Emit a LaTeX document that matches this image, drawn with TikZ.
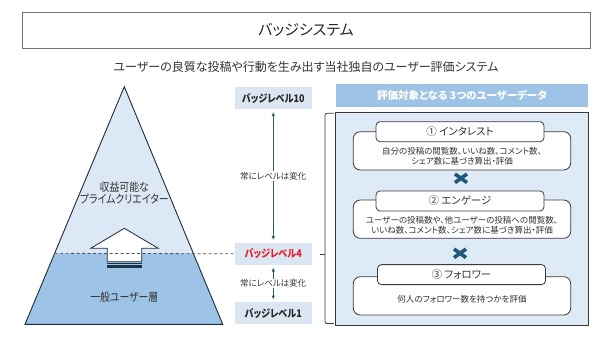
\documentclass[tikz,border=0pt]{standalone}
\usepackage{fontspec}
\setmainfont{Noto Sans CJK JP}[RawFeature=+palt]
\newfontfamily\narrowjp{Noto Sans CJK JP}[RawFeature=+palt, FakeStretch=0.86]
\usetikzlibrary{arrows.meta,calc}
\definecolor{pyrtop}{HTML}{DCE8F5}
\definecolor{pyrbot}{HTML}{9DC3E6}
\definecolor{edge}{HTML}{1E2B38}
\definecolor{panelfill}{HTML}{DEEBF7}
\definecolor{hdrfill}{HTML}{9DC3E6}
\definecolor{lvlfill}{HTML}{DCE6F2}
\definecolor{teal}{HTML}{2A5E72}
\definecolor{xmark}{HTML}{1F5878}
\definecolor{redtxt}{HTML}{E3202A}
\definecolor{txt}{HTML}{333333}
\definecolor{boxline}{HTML}{3A3A3A}
\tikzset{
  titlebox/.style={draw=black!55, line width=0.8pt, minimum width=568pt, minimum height=36pt, inner sep=0pt},
  lvl/.style={fill=lvlfill, minimum width=77pt, minimum height=22pt, inner sep=0pt, font=\narrowjp\bfseries\fontsize{10.5}{13}\selectfont, text=black!85},
  lbl/.style={fill=white, inner sep=1pt, font=\fontsize{8.5}{10}\selectfont, text=txt},
  vlink/.style={teal, line width=0.9pt, {Latex[length=4pt,width=3.5pt]}-{Latex[length=4pt,width=3.5pt]}},
  tabbox/.style={draw=boxline, fill=white, line width=0.8pt, rounded corners=4pt, minimum width=168pt, minimum height=20pt, inner sep=0pt, font=\fontsize{10.5}{12}\selectfont, text=txt},
  bodybox/.style={draw=boxline, fill=white, line width=0.8pt, rounded corners=7pt, minimum width=217.4pt, inner sep=0pt},
  bodytxt/.style={align=center, inner sep=0pt, font=\fontsize{8.5}{10.3}\selectfont, text=txt},
  xm/.style={xmark, line width=3.6pt},
  pyrtxt/.style={align=center, inner sep=0pt, font=\narrowjp\fontsize{11.5}{12.5}\selectfont, text=txt},
}
\begin{document}
\begin{tikzpicture}[x=1pt,y=-1pt]
\useasboundingbox (0,0) rectangle (613,345);
\fill[white] (0,0) rectangle (613,345);
% title
\node[titlebox, font=\fontsize{15}{18}\selectfont, text=black!85] (title) at (306,30) {バッジシステム};
\node[inner sep=0pt, font=\fontsize{12}{14}\selectfont, text=txt] (sub) at (306,67) {ユーザーの良質な投稿や行動を生み出す当社独自のユーザー評価システム};
% pyramid
\coordinate (apex) at (124.3,86.7);
\coordinate (bl) at (25,324.3);
\coordinate (br) at (222.7,324.3);
\coordinate (ml) at ($(apex)!0.7012!(bl)$);
\coordinate (mr) at ($(apex)!0.7012!(br)$);
\fill[pyrtop] (apex) -- (ml) -- (mr) -- cycle;
\fill[pyrbot] (ml) -- (bl) -- (br) -- (mr) -- cycle;
\draw[edge, line width=0.9pt, line join=miter] (apex) -- (bl) -- (br) -- cycle;
\node[pyrtxt] (top) at (124.3,193) {収益可能な\\プライムクリエイター};
\node[pyrtxt] (bottom) at (124.3,297.3) {一般ユーザー層};
% up arrow
\draw[edge, fill=white, line width=0.8pt] (124.3,228.3) -- (158.3,248.3) -- (141.7,248.3) -- (141.7,261.7) -- (107.3,261.7) -- (107.3,248.3) -- (90.7,248.3) -- cycle;
\fill[edge!90!teal] (107.3,263.2) rectangle (141.7,264.2);
\fill[edge!90!teal] (107.3,265.4) rectangle (141.7,268.4);
% levels
\node[lvl] (l10) at (273.3,98.3) {バッジレベル10};
\node[lvl, text=redtxt] (l4) at (273.3,253.8) {バッジレベル4};
\node[lvl] (l1) at (273.3,313.3) {バッジレベル1};
\draw[edge!80!white, dash pattern=on 3pt off 2.5pt, line width=0.8pt] (ml) -- (l4.west);
\draw[vlink, shorten <=2.5pt, shorten >=2.5pt] (l10.south) -- node[lbl] (c1) {常にレベルは変化} (l4.north);
\draw[vlink, shorten <=2.5pt, shorten >=2.5pt] (l4.south) -- node[lbl] (c2) {常にレベルは変化} (l1.north);
% bracket
\draw[boxline, line width=0.8pt, rounded corners=2pt] (334,113.3) -- (325,113.3) -- (325,323.5) -- (334,323.5);
\draw[boxline, line width=0.8pt] (325,254.5) -- (320,254.5);
% right panel
\node[fill=hdrfill, minimum width=252.6pt, minimum height=22.7pt, inner sep=0pt, text=white, font=\bfseries\fontsize{10.5}{12}\selectfont] (hdr) at (462,95.3) {評価対象となる 3つのユーザーデータ};
\draw[boxline, fill=panelfill, line width=0.8pt] (335.7,112.8) rectangle (588.3,325);
% box 1
\node[bodybox, minimum height=38.3pt] (b1) at (462,150.85) {};
\node[tabbox] (t1) at (460,131.7) {① インタレスト};
\node[bodytxt] (d1) at (462,156.3) {自分の投稿の閲覧数、いいね数、コメント数、\\シェア数に基づき算出・評価};
\draw[xm] (455,174) -- (467,182.6);
\draw[xm] (455,182.6) -- (467,174);
% box 2
\node[bodybox, minimum height=38.3pt] (b2) at (462,219.15) {};
\node[tabbox] (t2) at (460,201) {② エンゲージ};
\node[bodytxt] (d2) at (462,225.5) {ユーザーの投稿数や、他ユーザーの投稿への閲覧数、\\いいね数、コメント数、シェア数に基づき算出・評価};
\draw[xm] (454,249) -- (466,257.6);
\draw[xm] (454,257.6) -- (466,249);
% box 3
\node[bodybox, minimum height=38.3pt] (b3) at (462,295.85) {};
\node[tabbox] (t3) at (461.5,274.6) {③ フォロワー};
\node[bodytxt] (d3) at (462,299.3) {何人のフォロワー数を持つかを評価};
\end{tikzpicture}
\end{document}
